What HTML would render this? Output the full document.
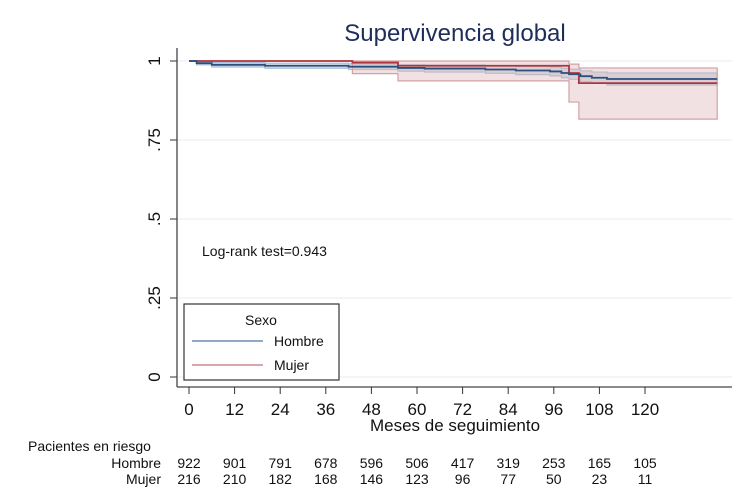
<!DOCTYPE html>
<html><head><meta charset="utf-8"><style>
html,body{margin:0;padding:0;background:#fff;}
svg{display:block;font-family:"Liberation Sans",Arial,sans-serif;}
</style></head><body>
<svg id="chart" width="750" height="503" viewBox="0 0 750 503">
<text x="455" y="41" font-size="24" fill="#1f2d5a" text-anchor="middle">Supervivencia global</text>
<g id="grid"></g>
<g id="bands"></g>
<g id="lines"></g>
<g id="axes"></g>
<text x="202" y="256" font-size="14" fill="#111">Log-rank test=0.943</text>
<g>
<rect x="184" y="304" width="155" height="76" fill="#fff" stroke="#333" stroke-width="1.2"/>
<text x="261" y="325" font-size="14" text-anchor="middle" fill="#111">Sexo</text>
<line x1="192" y1="341" x2="263" y2="341" stroke="#8fa9c7" stroke-width="2"/>
<text x="274" y="346" font-size="14" fill="#111">Hombre</text>
<line x1="192" y1="365" x2="263" y2="365" stroke="#d9a7ab" stroke-width="2"/>
<text x="274" y="370" font-size="14" fill="#111">Mujer</text>
</g>
<text x="455" y="431" font-size="17" text-anchor="middle" fill="#111">Meses de seguimiento</text>
<g id="risk" font-size="14" fill="#111"></g>
</svg>
<script>
const xTicks=[0,12,24,36,48,60,72,84,96,108,120];
const yTicks=[0,0.25,0.5,0.75,1];
const yTickLabels=["0",".25",".5",".75","1"];
const hombreTimes=[0,2,6,20,42,55,62,78,86,95,98,100,103,106,110,139];
const hombreSurv=[1,0.993,0.988,0.985,0.982,0.978,0.976,0.973,0.970,0.967,0.962,0.958,0.952,0.947,0.943,0.943];
const hombreLow=[1,0.988,0.981,0.977,0.973,0.968,0.965,0.961,0.957,0.953,0.947,0.942,0.935,0.929,0.924,0.924];
const hombreUp=[1,0.998,0.995,0.993,0.991,0.988,0.987,0.985,0.983,0.981,0.977,0.974,0.969,0.965,0.962,0.962];
const mujerTimes=[0,43,55,100,102.6,139];
const mujerSurv=[1,0.995,0.985,0.962,0.930,0.930];
const mujerLow=[1,0.96,0.937,0.87,0.816,0.816];
const mujerUp=[1,1,1,0.99,0.978,0.978];
const riskHombre=[922,901,791,678,596,506,417,319,253,165,105];
const riskMujer=[216,210,182,168,146,123,96,77,50,23,11];

const NS="http://www.w3.org/2000/svg";
const X=m=>189+m*3.8;
const Y=s=>377-s*316;
function el(tag,attrs,parent){const e=document.createElementNS(NS,tag);for(const k in attrs)e.setAttribute(k,attrs[k]);parent.appendChild(e);return e;}
function stepPts(t,v){let p=[];for(let i=0;i<t.length;i++){if(i>0)p.push([X(t[i]),Y(v[i-1])]);p.push([X(t[i]),Y(v[i])]);}return p;}
const grid=document.getElementById('grid'),bands=document.getElementById('bands'),lines=document.getElementById('lines'),axes=document.getElementById('axes'),risk=document.getElementById('risk');
yTicks.forEach((v,i)=>{
 const g=el('line',{x1:178,x2:732,y1:Y(v),y2:Y(v),stroke:'#e6eef0','stroke-width':1},grid);
 
 
 const tk=el('line',{x1:170,x2:177,y1:Y(v),y2:Y(v),stroke:'#333'},axes);
 
 
 const t=el('text',{x:0,y:0,'font-size':17,'text-anchor':'middle',fill:'#111',transform:`translate(160,${Y(v)}) rotate(-90)`},axes);
 t.textContent=yTickLabels[i];
 
 
});
function band(t,lo,up,fill,stroke,name){
 const a=stepPts(t,up),b=stepPts(t,lo).reverse();
 const p=el('polygon',{points:a.concat(b).map(q=>q.join(',')).join(' '),fill:fill,stroke:stroke,'stroke-width':1.2},bands);
 
 
}
band(hombreTimes,hombreLow,hombreUp,'rgba(160,185,210,0.45)','#a9bed6','hombre-ci-band');
band(mujerTimes,mujerLow,mujerUp,'rgba(220,180,182,0.4)','#d4a0a4','mujer-ci-band');
function line(t,v,color,name){
 const p=el('polyline',{points:stepPts(t,v).map(q=>q.join(',')).join(' '),fill:'none',stroke:color,'stroke-width':1.8},lines);
 
 
}
line(mujerTimes,mujerSurv,'#b0343c','mujer-survival-line');
line(hombreTimes,hombreSurv,'#2e4f7a','hombre-survival-line');
const ya=el('line',{x1:177,x2:177,y1:48,y2:387,stroke:'#444','stroke-width':1.3},axes);


const xa=el('line',{x1:177,x2:732,y1:387,y2:387,stroke:'#444','stroke-width':1.3},axes);


xTicks.forEach((m,i)=>{
 const tk=el('line',{x1:X(m),x2:X(m),y1:387,y2:394,stroke:'#333'},axes);
 
 
 const t=el('text',{x:X(m),y:415,'font-size':17,'text-anchor':'middle',fill:'#111'},axes);
 t.textContent=m;
 
 
 const h=el('text',{x:X(m),y:468,'text-anchor':'middle'},risk);
 h.textContent=riskHombre[i];
 
 
 const w=el('text',{x:X(m),y:484,'text-anchor':'middle'},risk);
 w.textContent=riskMujer[i];
 
 
});
const rl=[['Pacientes en riesgo',28,451,'start','risk-table-title'],['Hombre',161,468,'end','risk-hombre-label'],['Mujer',161,484,'end','risk-mujer-label']];
rl.forEach(r=>{const t=el('text',{x:r[1],y:r[2],'text-anchor':r[3]},risk);t.textContent=r[0];
 
 });
</script>
</body></html>
